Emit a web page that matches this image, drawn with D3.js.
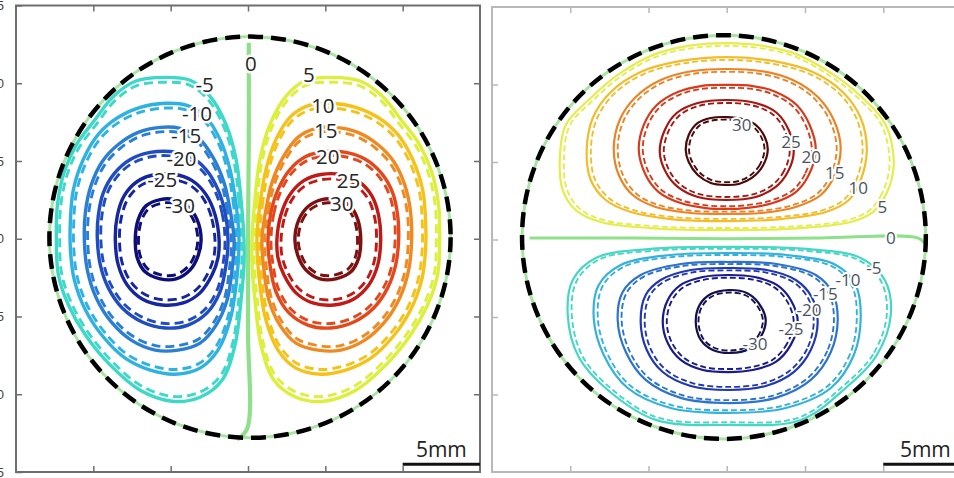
<!DOCTYPE html>
<html lang="en">
<head>
<meta charset="UTF-8">
<title>Contours in a round duct</title>
<script src="https://d3js.org/d3.v7.min.js"></script>
<style>
    body { margin: 0; background: #fff; }
    .axis text { font-family: "Liberation Sans", sans-serif; font-size: 13px; fill: #444; }
    .lab { font-family: "Open Sans", sans-serif; text-anchor: middle; dominant-baseline: central; paint-order: stroke; stroke: #fff; stroke-linejoin: round; }
    .bar text { font-family: "Open Sans", sans-serif; font-size: 21px; fill: #222; text-anchor: middle; }
</style>
</head>
<body>
<svg width="954" height="478"></svg>
<script>

// contour levels (magnitude), innermost last
var levels = [5, 10, 15, 20, 25, 30];
var edgeTicks = [-15, -10, -5, 0, 5, 10, 15];
var innerTicks = [-10, -5, 0, 5, 10];

// left panel, negative lobe (mm); the positive lobe is its mirror image
var leftNeg5 = [[-0.26,-0.06],[-0.45,2.52],[-0.77,5.10],[-1.42,7.35],[-2.45,9.16],[-3.74,10.19],[-5.35,10.38],[-7.29,10.13],[-8.77,9.09],[-9.87,7.68],[-11.09,6.06],[-11.87,4.32],[-12.32,2.19],[-12.39,-0.06],[-12.26,-2.32],[-11.61,-4.26],[-10.51,-6.19],[-8.90,-8.13],[-6.97,-9.74],[-4.90,-10.45],[-3.10,-10.19],[-1.68,-9.10],[-0.84,-6.84],[-0.45,-3.94],[-0.26,-1.68]];
var leftNeg10 = [[-0.58,-0.06],[-0.77,2.19],[-1.16,4.45],[-1.81,6.39],[-2.77,7.87],[-3.94,8.58],[-5.35,8.71],[-6.97,8.45],[-8.39,7.81],[-9.68,6.71],[-10.65,5.10],[-11.29,3.16],[-11.48,1.23],[-11.48,-0.71],[-11.23,-2.65],[-10.51,-4.58],[-9.35,-6.32],[-7.94,-7.68],[-6.32,-8.45],[-4.71,-8.71],[-3.10,-8.32],[-1.94,-7.16],[-1.16,-5.23],[-0.77,-2.97]];
var leftNeg15 = [[-0.90,-0.06],[-1.16,1.87],[-1.55,3.61],[-2.26,5.23],[-3.23,6.52],[-4.39,7.10],[-5.68,7.16],[-7.10,6.84],[-8.39,6.06],[-9.42,4.97],[-10.13,3.48],[-10.51,1.74],[-10.58,-0.06],[-10.39,-2.00],[-9.81,-3.81],[-8.84,-5.35],[-7.55,-6.52],[-6.00,-7.16],[-4.52,-7.16],[-3.10,-6.71],[-2.06,-5.55],[-1.35,-3.94],[-1.03,-2.00]];
var leftNeg20 = [[-1.29,-0.06],[-1.48,1.68],[-1.94,3.16],[-2.71,4.45],[-3.74,5.29],[-5.03,5.61],[-6.32,5.55],[-7.61,5.10],[-8.65,4.19],[-9.35,2.97],[-9.68,1.48],[-9.74,-0.06],[-9.55,-1.68],[-9.03,-3.16],[-8.13,-4.45],[-6.84,-5.35],[-5.35,-5.74],[-3.87,-5.55],[-2.65,-4.77],[-1.81,-3.42],[-1.42,-1.68]];
var leftNeg25 = [[-1.87,-0.06],[-2.13,1.55],[-2.71,2.84],[-3.61,3.74],[-4.71,4.13],[-6.00,4.13],[-7.16,3.68],[-8.00,2.77],[-8.45,1.48],[-8.58,-0.06],[-8.39,-1.68],[-7.81,-2.97],[-6.84,-3.87],[-5.55,-4.26],[-4.19,-4.13],[-3.10,-3.48],[-2.32,-2.32],[-1.94,-1.23]];
var leftNeg30 = [[-3.03,-0.06],[-3.29,1.23],[-3.87,2.06],[-4.77,2.52],[-5.68,2.52],[-6.58,2.13],[-7.10,1.23],[-7.29,-0.06],[-7.16,-1.23],[-6.65,-2.13],[-5.68,-2.58],[-4.65,-2.58],[-3.74,-2.00],[-3.23,-1.10]];
var leftZero = [[0.05,12.6],[0.05,6],[0,0],[0,-6],[-0.05,-12.2],[-0.7,-12.9]];
var leftLabels = [["0",0.19,11.3],["-5",-2.8,9.95],["-10",-3.3,8.1],["-15",-4.0,6.65],["-20",-4.3,5.2],["-25",-5.55,3.85],["-30",-4.4,2.15],
                  ["5",3.94,10.6],["10",4.84,8.6],["15",5.03,7.0],["20",5.16,5.3],["25",6.5,3.75],["30",6.06,2.3]];

// right panel, positive (top) and negative (bottom) lobes (mm)
var rightPos5 = [[10.67,4.81],[10.16,2.87],[9.33,1.77],[7.92,1.13],[4.73,0.74],[0,0.61],[-4.86,0.74],[-8.05,1.13],[-9.65,1.90],[-10.48,3.19],[-10.67,5.13],[-10.29,7.39],[-8.69,9.13],[-6.90,10.67],[-4.22,12.09],[0,12.67],[4.09,12.09],[6.77,10.67],[8.69,9.13],[10.16,7.39]];
var rightPos10 = [[8.95,5.77],[8.56,3.84],[7.80,2.55],[6.33,1.77],[3.45,1.32],[0,1.19],[-3.58,1.32],[-6.13,1.77],[-7.73,2.55],[-8.69,3.84],[-8.95,5.77],[-8.56,7.84],[-7.41,9.52],[-5.50,10.81],[-2.94,11.52],[0,11.77],[2.94,11.52],[5.50,10.81],[7.41,9.52],[8.56,7.84]];
var rightPos15 = [[7.28,5.90],[6.90,4.16],[6.01,2.87],[4.41,2.10],[2.17,1.71],[0,1.65],[-2.30,1.71],[-4.54,2.10],[-6.01,2.87],[-6.90,4.16],[-7.22,5.90],[-6.84,7.71],[-5.82,9.19],[-4.22,10.29],[-2.17,10.87],[0,11.0],[2.17,10.87],[4.22,10.29],[5.82,9.19],[6.84,7.71]];
var rightPos20 = [[5.69,5.77],[5.24,4.16],[4.41,3.06],[2.94,2.35],[1.21,2.03],[0,1.97],[-1.34,2.03],[-2.94,2.35],[-4.35,3.06],[-5.18,4.16],[-5.62,5.77],[-5.30,7.39],[-4.47,8.68],[-3.13,9.52],[-1.66,9.90],[0,9.97],[1.66,9.90],[3.13,9.52],[4.47,8.68],[5.30,7.39]];
var rightPos25 = [[4.28,5.65],[3.90,4.35],[3.13,3.39],[1.85,2.74],[0,2.55],[-1.85,2.74],[-3.13,3.39],[-3.90,4.35],[-4.28,5.65],[-3.96,7.06],[-3.20,8.16],[-1.85,8.81],[0,9.0],[1.85,8.81],[3.20,8.16],[3.96,7.06]];
var rightPos30 = [[2.62,5.77],[2.30,4.74],[1.60,3.97],[0.77,3.58],[-0.13,3.52],[-1.02,3.65],[-1.85,4.16],[-2.43,5.0],[-2.62,5.77],[-2.43,6.74],[-1.85,7.52],[-1.02,7.84],[0,7.90],[1.02,7.77],[1.85,7.39],[2.43,6.61]];
var rightNeg5 = [[10.48,-4.87],[9.59,-7.45],[7.60,-9.58],[4.73,-11.64],[0.13,-11.96],[-4.54,-11.64],[-7.60,-9.71],[-9.46,-7.58],[-10.16,-4.87],[-9.84,-2.61],[-8.37,-1.19],[-4.86,-0.61],[0.13,-0.48],[5.11,-0.61],[8.56,-1.19],[10.10,-2.61]];
var rightNeg10 = [[8.56,-5.06],[8.12,-7.45],[6.65,-9.58],[3.77,-10.87],[0.13,-11.19],[-3.58,-10.87],[-6.33,-9.58],[-7.86,-7.45],[-8.50,-5.06],[-8.18,-2.93],[-6.77,-1.64],[-3.58,-1.0],[0.13,-0.87],[3.83,-1.0],[6.97,-1.64],[8.24,-2.93]];
var rightNeg15 = [[7.09,-5.19],[6.65,-7.26],[5.37,-9.06],[3.13,-10.22],[0.13,-10.55],[-2.94,-10.22],[-5.18,-9.06],[-6.45,-7.26],[-6.97,-5.19],[-6.65,-3.39],[-5.50,-2.29],[-2.94,-1.58],[0.13,-1.45],[3.20,-1.58],[5.69,-2.29],[6.77,-3.45]];
var rightNeg20 = [[5.81,-5.32],[5.37,-7.13],[4.28,-8.55],[2.49,-9.45],[0.13,-9.71],[-2.30,-9.45],[-4.09,-8.55],[-5.11,-7.13],[-5.50,-5.32],[-5.18,-3.58],[-4.22,-2.61],[-2.30,-1.97],[0.13,-1.84],[2.56,-1.97],[4.41,-2.61],[5.43,-3.71]];
var rightNeg25 = [[4.54,-5.32],[4.09,-6.80],[3.13,-7.90],[1.66,-8.42],[0.13,-8.55],[-1.53,-8.42],[-2.94,-7.77],[-3.77,-6.68],[-4.09,-5.32],[-3.77,-3.90],[-2.94,-2.93],[-1.53,-2.42],[0.13,-2.29],[1.79,-2.42],[3.20,-2.93],[4.09,-3.90]];
var rightNeg30 = [[2.49,-5.19],[2.17,-6.29],[1.41,-7.06],[0.26,-7.32],[-0.89,-7.13],[-1.66,-6.48],[-1.98,-5.32],[-1.73,-4.22],[-1.02,-3.52],[0.13,-3.26],[1.28,-3.45],[2.04,-4.10]];
var rightZero = [[-12.6,0.1],[-6,0.1],[0,0.05],[6,0.1],[12.2,0.1],[12.7,-0.3]];
var rightLabels = [["0",10.48,0.16],["5",9.95,2.13],["10",8.4,3.35],["15",6.9,4.35],["20",5.4,5.35],["25",4.1,6.35],["30",0.96,7.45],
                   ["-5",9.4,-1.8],["-10",7.75,-2.6],["-15",6.3,-3.5],["-20",5.25,-4.5],["-25",4.1,-5.75],["-30",1.8,-6.7]];

// simulated (dashed) contour sits a little inside the measured one
var leftDashScale = [0.97, 0.965, 0.96, 0.95, 0.92, 0.9];
var rightDashScale = [0.975, 0.97, 0.965, 0.955, 0.94, 0.92];

var negColors = ["#3ed8c8", "#2fb2e2", "#2a7fd4", "#1f4cc0", "#1626a0", "#0e0e78"];
var posColors = ["#dcef3c", "#f5c21a", "#ef8a22", "#e2481c", "#bf1a16", "#7d1010"];
var negColorsR = ["#46d6c4", "#34b2dc", "#2c74cc", "#2038b0", "#1a1c8a", "#14104e"];
var posColorsR = ["#e4ec4e", "#f2bd2a", "#ea8426", "#d63c1c", "#a31812", "#4a0a0a"];
var zeroColor = "#8fe08a";

var svg = d3.select("svg");

function mirrorX(pts) { return pts.map(function(p) { return [-p[0], p[1]]; }); }
function shrink(pts, c, s) {
    return pts.map(function(p) { return [c[0] + (p[0] - c[0]) * s, c[1] + (p[1] - c[1]) * s]; });
}

function panel(o) {
    var x = d3.scaleLinear().domain([-15, 15]).range(o.xRange);
    var y = d3.scaleLinear().domain([-15, 15]).range(o.yRange);
    var g = svg.append("g");

    var closed = d3.line().x(function(d) { return x(d[0]); }).y(function(d) { return y(d[1]); })
        .curve(d3.curveCatmullRomClosed.alpha(0.5));
    var open = d3.line().x(function(d) { return x(d[0]); }).y(function(d) { return y(d[1]); })
        .curve(d3.curveCatmullRom.alpha(0.5));

    // frame + inward ticks
    g.append("rect")
        .attr("x", x(-15)).attr("y", y(15))
        .attr("width", x(15) - x(-15)).attr("height", y(-15) - y(15))
        .attr("fill", "none").attr("stroke", o.frame).attr("stroke-width", 2);

    var axes = [
        [d3.axisTop(x).tickValues(innerTicks), "translate(0," + y(15) + ")"],
        [d3.axisBottom(x).tickValues(innerTicks), "translate(0," + y(-15) + ")"],
        [d3.axisLeft(y).tickValues(o.showLabels ? edgeTicks : innerTicks), "translate(" + x(-15) + ",0)"],
        [d3.axisRight(y).tickValues(innerTicks), "translate(" + x(15) + ",0)"]
    ];
    axes.forEach(function(a, i) {
        var ax = a[0].tickSize(-6).tickPadding(12);
        if (!(i == 2 && o.showLabels)) ax.tickFormat("");
        var ag = g.append("g").attr("class", "axis").attr("transform", a[1]).call(ax);
        ag.select(".domain").remove();
        ag.selectAll("line").attr("stroke", o.frame).attr("stroke-width", 1.5);
    });

    // wall (zero velocity) under the dashed outline
    var cx = x(o.circle[0]), cy = y(o.circle[1]), r = x(o.circle[2]) - x(0);
    g.append("circle").attr("cx", cx).attr("cy", cy).attr("r", r)
        .attr("fill", "none").attr("stroke", "#a8e4a2").attr("stroke-width", 3);

    o.lobes.forEach(function(lobe) {
        lobe.contours.forEach(function(pts, i) {
            g.append("path")
                .attr("d", closed(shrink(pts, lobe.center, o.dashScale[i])))
                .attr("fill", "none").attr("stroke", lobe.colors[i])
                .attr("stroke-width", o.lw * 0.85).attr("stroke-dasharray", o.dash);
            g.append("path")
                .attr("d", closed(pts))
                .attr("fill", "none").attr("stroke", lobe.colors[i])
                .attr("stroke-width", o.lw);
        });
    });

    g.append("path").attr("d", open(o.zero))
        .attr("fill", "none").attr("stroke", zeroColor).attr("stroke-width", o.lw + 0.8);

    g.append("circle").attr("cx", cx).attr("cy", cy).attr("r", r)
        .attr("fill", "none").attr("stroke", "#000")
        .attr("stroke-width", 4.5).attr("stroke-dasharray", "15 8");

    g.selectAll(".lab").data(o.labels).enter().append("text")
        .attr("class", "lab")
        .attr("x", function(d) { return x(d[1]); })
        .attr("y", function(d) { return y(d[2]); })
        .style("font-size", o.labelSize + "px")
        .attr("fill", o.labelColor)
        .attr("stroke-width", o.halo)
        .text(function(d) { return d[0]; });

    // 5 mm scale bar
    var bar = g.append("g").attr("class", "bar");
    bar.append("line")
        .attr("x1", x(10)).attr("x2", x(15))
        .attr("y1", y(-14.5)).attr("y2", y(-14.5))
        .attr("stroke", "#111").attr("stroke-width", 3);
    bar.append("text").attr("x", x(12.5) + o.barShift).attr("y", y(-14.05)).text("5mm");
}

panel({
    xRange: [16, 480], yRange: [472, 5.5], frame: "#6e6e6e", showLabels: true,
    circle: [0.13, 0.1, 12.97],
    lobes: [
        { contours: [leftNeg5, leftNeg10, leftNeg15, leftNeg20, leftNeg25, leftNeg30], center: [-5.2, 0], colors: negColors },
        { contours: [leftNeg5, leftNeg10, leftNeg15, leftNeg20, leftNeg25, leftNeg30].map(mirrorX), center: [5.2, 0], colors: posColors }
    ],
    dashScale: leftDashScale, lw: 3.4, dash: "9 5",
    zero: leftZero, labels: leftLabels, labelSize: 20.5, labelColor: "#262626", halo: 5,
    barShift: 0
});

panel({
    xRange: [492, 961.5], yRange: [472, 7], frame: "#b8b8b8", showLabels: false,
    circle: [-0.18, 0.16, 12.9],
    lobes: [
        { contours: [rightPos5, rightPos10, rightPos15, rightPos20, rightPos25, rightPos30], center: [0, 5.8], colors: posColorsR },
        { contours: [rightNeg5, rightNeg10, rightNeg15, rightNeg20, rightNeg25, rightNeg30], center: [0.2, -5.3], colors: negColorsR }
    ],
    dashScale: rightDashScale, lw: 2.2, dash: "6 3",
    zero: rightZero, labels: rightLabels, labelSize: 17, labelColor: "#4a5460", halo: 4,
    barShift: 3
});

</script>
</body>
</html>
